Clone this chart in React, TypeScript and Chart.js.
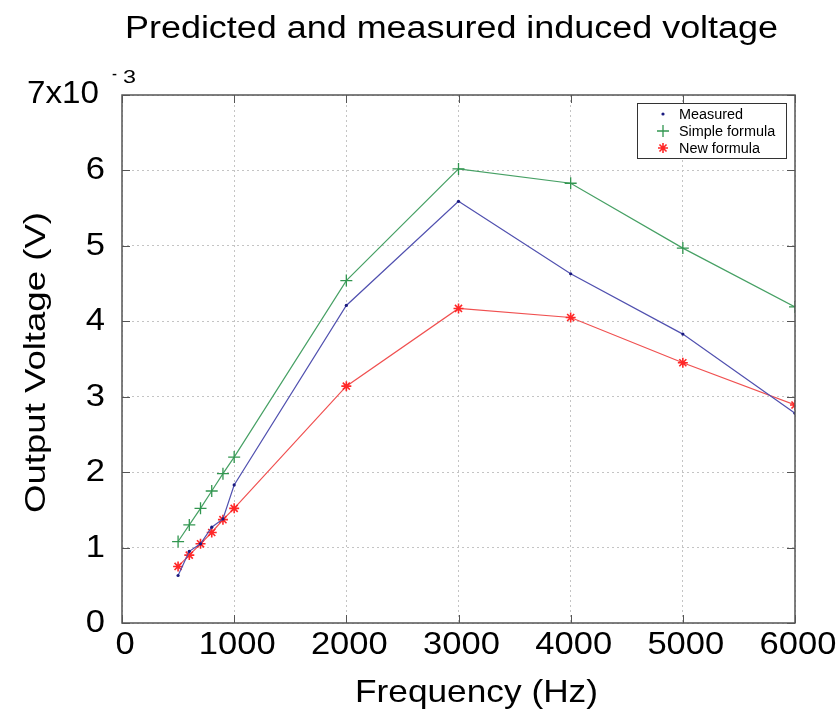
import React, { useEffect, useRef } from "react";
import { Chart, registerables } from "chart.js";

Chart.register(...registerables);

const TITLE = "Predicted and measured induced voltage";
const X_TITLE = "Frequency (Hz)";
const Y_TITLE = "Output Voltage (V)";

const frequencies = [500, 600, 700, 800, 900, 1000, 2000, 3000, 4000, 5000, 6000];
// values in units of 10^-3 V
const measured = [0.63, 0.95, 1.05, 1.27, 1.38, 1.83, 4.21, 5.59, 4.63, 3.83, 2.78];
const simpleFormula = [1.08, 1.3, 1.52, 1.75, 1.98, 2.2, 4.54, 6.02, 5.83, 4.97, 4.19];
const newFormula = [0.75, 0.9, 1.05, 1.2, 1.37, 1.52, 3.14, 4.17, 4.05, 3.45, 2.89];

const seriesLabels = ["Measured", "Simple formula", "New formula"];
const xTicks = [0, 1000, 2000, 3000, 4000, 5000, 6000];
const yTicks = [0, 1, 2, 3, 4, 5, 6, 7];
const yExponent = "-3";

const FONT = "'Liberation Sans', Arial, Helvetica, sans-serif";

function fitText(
  ctx: CanvasRenderingContext2D,
  text: string,
  x: number,
  y: number,
  size: number,
  targetWidth: number | null,
  align: CanvasTextAlign,
  rotate = false
) {
  ctx.save();
  ctx.font = `${size}px ${FONT}`;
  const w = ctx.measureText(text).width;
  const sx = targetWidth ? targetWidth / w : 1;
  ctx.translate(x, y);
  if (rotate) ctx.rotate(-Math.PI / 2);
  ctx.scale(sx, 1);
  ctx.textAlign = align;
  ctx.textBaseline = "alphabetic";
  ctx.fillStyle = "#000";
  ctx.fillText(text, 0, 0);
  ctx.restore();
}

const decorPlugin = {
  id: "decor",
  afterDraw(chart: any) {
    const ctx: CanvasRenderingContext2D = chart.ctx;
    const { left, right, top, bottom } = chart.chartArea;
    const xs = chart.scales.x;
    const ys = chart.scales.y;

    // axis box
    ctx.save();
    ctx.strokeStyle = "#555";
    ctx.lineWidth = 1.5;
    ctx.strokeRect(left, top, right - left, bottom - top);
    // inward ticks
    ctx.lineWidth = 1;
    ctx.strokeStyle = "#555";
    const tl = 8;
    xTicks.forEach((v) => {
      const px = Math.round(xs.getPixelForValue(v)) + 0.5;
      ctx.beginPath();
      ctx.moveTo(px, bottom);
      ctx.lineTo(px, bottom - tl);
      ctx.moveTo(px, top);
      ctx.lineTo(px, top + tl);
      ctx.stroke();
    });
    yTicks.forEach((v) => {
      const py = Math.round(ys.getPixelForValue(v)) + 0.5;
      ctx.beginPath();
      ctx.moveTo(left, py);
      ctx.lineTo(left + tl, py);
      ctx.moveTo(right, py);
      ctx.lineTo(right - tl, py);
      ctx.stroke();
    });
    ctx.restore();

    // tick labels
    const digitScale = 1.08;
    xTicks.forEach((v) => {
      const px = xs.getPixelForValue(v);
      const s = String(v);
      ctx.save();
      ctx.font = `32px ${FONT}`;
      const w = ctx.measureText(s).width * digitScale;
      ctx.restore();
      fitText(ctx, s, px + 3, 654, 32, w, "center");
    });
    yTicks.forEach((v) => {
      const py = ys.getPixelForValue(v);
      if (v === 7) {
        fitText(ctx, "7x10", 99, py + 8, 31, 72, "right");
        fitText(ctx, yExponent[0], 112, py - 15, 18, 5, "left");
        fitText(ctx, yExponent[1], 123, py - 12, 19, 13, "left");
      } else {
        const s = String(v);
        ctx.save();
        ctx.font = `32px ${FONT}`;
        const w = ctx.measureText(s).width * digitScale;
        ctx.restore();
        fitText(ctx, s, 105, py + 9, 32, w, "right");
      }
    });

    // titles
    fitText(ctx, TITLE, 451.5, 38, 31, 653, "center");
    fitText(ctx, X_TITLE, 476.5, 702, 32, 243, "center");
    fitText(ctx, Y_TITLE, 45, 362.5, 30, 301, "center", true);

    // legend
    const lx = 637, ly = 103, lw = 149, lh = 55;
    ctx.save();
    ctx.fillStyle = "#fff";
    ctx.fillRect(lx, ly, lw, lh);
    ctx.strokeStyle = "#333";
    ctx.lineWidth = 1;
    ctx.strokeRect(lx + 0.5, ly + 0.5, lw, lh);
    ctx.restore();
    const rows = [114, 131, 148];
    chart.data.datasets.forEach((ds: any, i: number) => {
      const cy = rows[i];
      const mx = 663;
      ctx.save();
      ctx.strokeStyle = ds.pointBorderColor;
      ctx.fillStyle = ds.pointBackgroundColor;
      ctx.lineWidth = ds.pointBorderWidth;
      const r = ds.pointRadius;
      if (ds.pointStyle === "circle") {
        ctx.beginPath();
        ctx.arc(mx, cy, r, 0, Math.PI * 2);
        ctx.fill();
      } else if (ds.pointStyle === "cross") {
        ctx.beginPath();
        ctx.moveTo(mx - r, cy);
        ctx.lineTo(mx + r, cy);
        ctx.moveTo(mx, cy - r);
        ctx.lineTo(mx, cy + r);
        ctx.stroke();
      } else {
        ctx.beginPath();
        for (let k = 0; k < 4; k++) {
          const a = (k * Math.PI) / 4;
          ctx.moveTo(mx - r * Math.cos(a), cy - r * Math.sin(a));
          ctx.lineTo(mx + r * Math.cos(a), cy + r * Math.sin(a));
        }
        ctx.stroke();
      }
      ctx.restore();
      ctx.save();
      ctx.font = `14px ${FONT}`;
      const w = ctx.measureText(ds.label).width * 1.03;
      ctx.restore();
      fitText(ctx, ds.label, 679, cy + 5, 14, w, "left");
    });
  },
};

export default function App() {
  const ref = useRef<HTMLCanvasElement | null>(null);

  useEffect(() => {
    document.body.style.margin = "0";
    const canvas = ref.current;
    if (!canvas) return;
    const mk = (arr: number[]) => frequencies.map((f, i) => ({ x: f, y: arr[i] }));
    const chart = new Chart(canvas, {
      type: "line",
      data: {
        datasets: [
          {
            label: seriesLabels[0],
            data: mk(measured),
            borderColor: "rgb(80,80,175)",
            borderWidth: 1.2,
            pointStyle: "circle",
            pointRadius: 1.6,
            pointBorderWidth: 0,
            pointBackgroundColor: "#1a1a80",
            pointBorderColor: "#1a1a80",
            tension: 0,
          },
          {
            label: seriesLabels[1],
            data: mk(simpleFormula),
            borderColor: "rgb(70,160,100)",
            borderWidth: 1.2,
            pointStyle: "cross",
            pointRadius: 6,
            pointBorderWidth: 1.3,
            pointBackgroundColor: "rgb(50,150,80)",
            pointBorderColor: "rgb(50,150,80)",
            tension: 0,
          },
          {
            label: seriesLabels[2],
            data: mk(newFormula),
            borderColor: "rgb(240,80,80)",
            borderWidth: 1.2,
            pointStyle: "star",
            pointRadius: 5,
            pointBorderWidth: 1.6,
            pointBackgroundColor: "rgb(255,40,40)",
            pointBorderColor: "rgb(255,40,40)",
            tension: 0,
          },
        ],
      },
      options: {
        animation: false,
        responsive: false,
        devicePixelRatio: 1,
        layout: { padding: { top: 95, right: 45, left: 0, bottom: 0 } },
        plugins: {
          legend: { display: false },
          title: { display: false },
          tooltip: { enabled: false },
        },
        scales: {
          x: {
            type: "linear",
            min: 0,
            max: 6000,
            ticks: { display: false, stepSize: 1000 },
            grid: { color: "#c4c4c4", lineWidth: 1, drawTicks: false },
            border: { display: false, dash: [2, 3] },
            afterFit: (s: any) => {
              s.height = 94;
            },
          },
          y: {
            type: "linear",
            min: 0,
            max: 7,
            ticks: { display: false, stepSize: 1 },
            grid: { color: "#c4c4c4", lineWidth: 1, drawTicks: false },
            border: { display: false, dash: [2, 3] },
            afterFit: (s: any) => {
              s.width = 122;
            },
          },
        },
      } as any,
      plugins: [decorPlugin],
    });
    return () => chart.destroy();
  }, []);

  return (
    <div style={{ width: 840, height: 717 }}>
      <canvas ref={ref} width={840} height={717} />
    </div>
  );
}
